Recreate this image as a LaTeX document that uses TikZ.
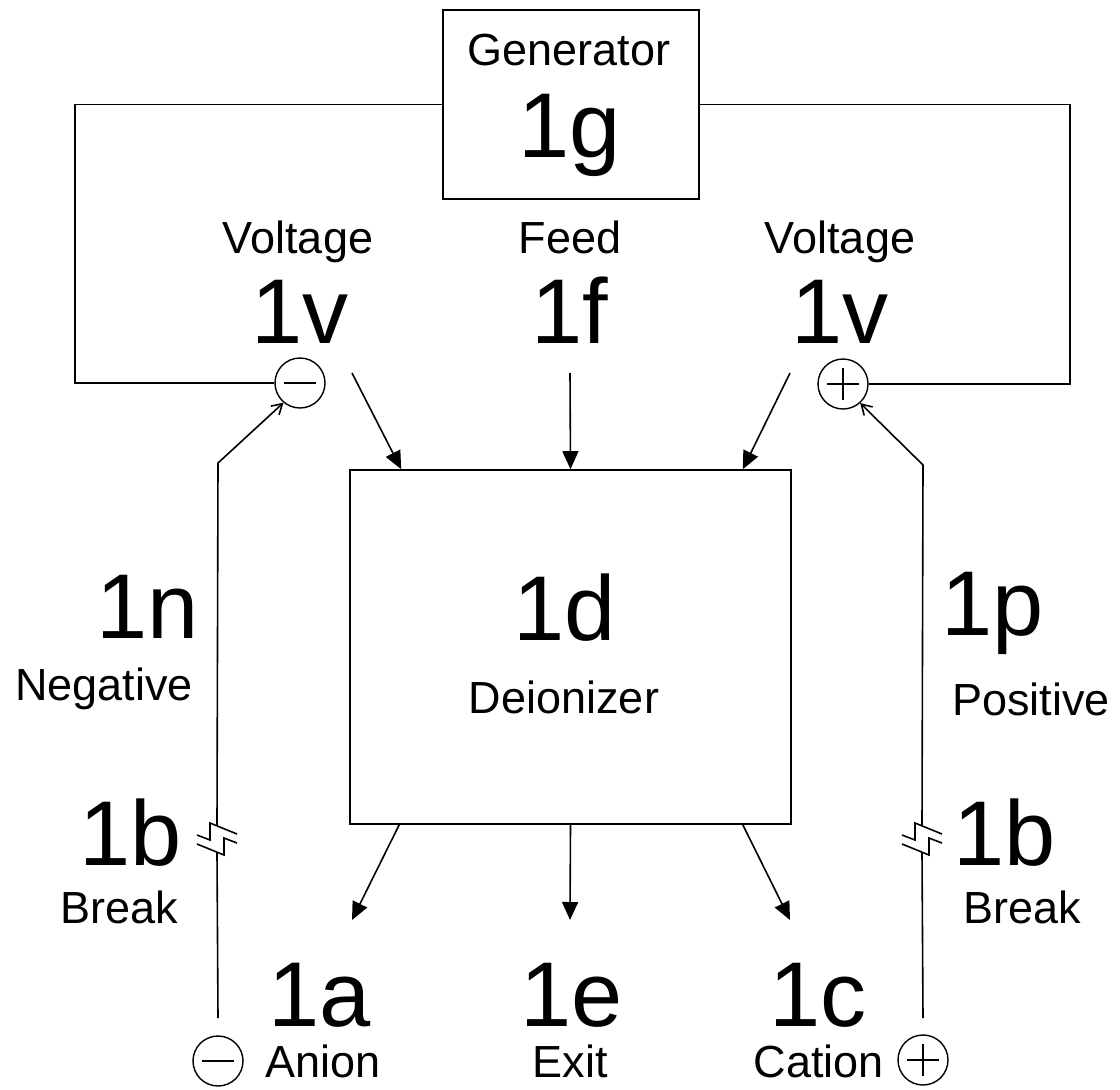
\documentclass[tikz,border=0pt]{standalone}
\usepackage{fontspec}
\setmainfont{Liberation Sans}
\usetikzlibrary{arrows.meta}

\tikzset{
  box/.style={draw, line width=0.8pt, inner sep=0pt},
  lbl/.style={font=\fontsize{22.5}{26}\selectfont, anchor=base, inner sep=0pt},
  num/.style={font=\fontsize{46}{52}\selectfont, anchor=base, inner sep=0pt},
  term/.style={draw, circle, line width=0.7pt, minimum size=25pt, inner sep=0pt},
  negterm/.style={term, path picture={
      \draw[line width=0.7pt] ([xshift=-8pt]path picture bounding box.center) -- ++(16pt,0);}},
  posterm/.style={term, path picture={
      \draw[line width=0.7pt] ([xshift=-8pt]path picture bounding box.center) -- ++(16pt,0);
      \draw[line width=0.7pt] ([yshift=-8pt]path picture bounding box.center) -- ++(0,16pt);}},
  feed/.style={line width=0.8pt, -{Triangle[length=9pt,width=8pt]}},
  lead/.style={line width=0.8pt, -{Straight Barb[length=5pt,width=6pt]}},
  wirebreak/.pic={
    \draw[line width=0.8pt] (-20,-4) -- (-7,1) -- (-7,-16) -- (20,-5);
    \draw[line width=0.8pt] (20,4) -- (7,-1) -- (7,16) -- (-20,5);
  }
}

\begin{document}
\begin{tikzpicture}[x=0.5pt, y=-0.5pt]
  \useasboundingbox (0,0) rectangle (1120,1089);

  % Generator and deionizer
  \node[box, minimum width=128pt, minimum height=94.5pt] (gen) at (571,104.5) {};
  \node[box, minimum width=220.5pt, minimum height=177pt] (deion) at (570.5,647) {};
  \node[lbl] (genname) at (569,65) {Generator};
  \node[num] (gennum) at (570,157) {1g};
  \node[num] (deionnum) at (565,640) {1d};
  \node[lbl] (deionname) at (564,713) {Deionizer};

  % Terminals
  \node[negterm] (vneg) at (300,383) {};
  \node[posterm] (vpos) at (843,384) {};
  \node[negterm] (aneg) at (218,1061) {};
  \node[posterm] (cpos) at (923,1060) {};

  % Supply loop
  \draw[line width=0.8pt] (gen.west) -| (75,383) -- (vneg.west);
  \draw[line width=0.8pt] (gen.east) -| (1070,384) -- (vpos.east);

  % Inputs
  \node[lbl] (voltL) at (298,253) {Voltage};
  \node[num] (voltLnum) at (300,343) {1v};
  \node[lbl] (feedname) at (570,253) {Feed};
  \node[num] (feednum) at (570,343) {1f};
  \node[lbl] (voltR) at (840,253) {Voltage};
  \node[num] (voltRnum) at (840,343) {1v};
  \coordinate (inL) at (352,373);
  \coordinate (inM) at (570,373);
  \coordinate (inR) at (790,373);
  \draw[feed] (inL) -- ([xshift=26pt]deion.north west);
  \draw[feed] (inM) -- (deion.north);
  \draw[feed] (inR) -- ([xshift=-24.5pt]deion.north east);

  % Outputs
  \coordinate (outA) at (352,920);
  \coordinate (outE) at (570,920);
  \coordinate (outC) at (790,920);
  \draw[feed] ([xshift=25pt]deion.south west) -- (outA);
  \draw[feed] (deion.south) -- (outE);
  \draw[feed] ([xshift=-24.5pt]deion.south east) -- (outC);
  \node[num] (anum) at (320,1026) {1a};
  \node[lbl] (aname) at (323,1077) {Anion};
  \node[num] (enum) at (572,1026) {1e};
  \node[lbl] (ename) at (570,1077) {Exit};
  \node[num] (cnum) at (818,1026) {1c};
  \node[lbl] (cname) at (819,1077) {Cation};

  % Negative return line with break
  \coordinate (nbot) at (218,1018);
  \coordinate (nbrk) at (217,839);
  \coordinate (nbend) at (218,463);
  \draw[line width=0.8pt] (nbot) -- ([yshift=-7pt]nbrk);
  \pic at (nbrk) {wirebreak};
  \draw[lead] ([yshift=7pt]nbrk) -- (nbend) -- (vneg.230);
  \node[num] (nnum) at (148,638) {1n};
  \node[lbl] (nname) at (104,700) {Negative};
  \node[num] (bLnum) at (131,865) {1b};
  \node[lbl] (bLname) at (119,923) {Break};

  % Positive return line with break
  \coordinate (pbot) at (923,1018);
  \coordinate (pbrk) at (922,839);
  \coordinate (pbend) at (923,465);
  \draw[line width=0.8pt] (pbot) -- ([yshift=-7pt]pbrk);
  \pic at (pbrk) {wirebreak};
  \draw[lead] ([yshift=7pt]pbrk) -- (pbend) -- (vpos.-48);
  \node[num] (pnum) at (993,635) {1p};
  \node[lbl] (pname) at (1031,715) {Positive};
  \node[num] (bRnum) at (1005,865) {1b};
  \node[lbl] (bRname) at (1022,923) {Break};
\end{tikzpicture}
\end{document}
